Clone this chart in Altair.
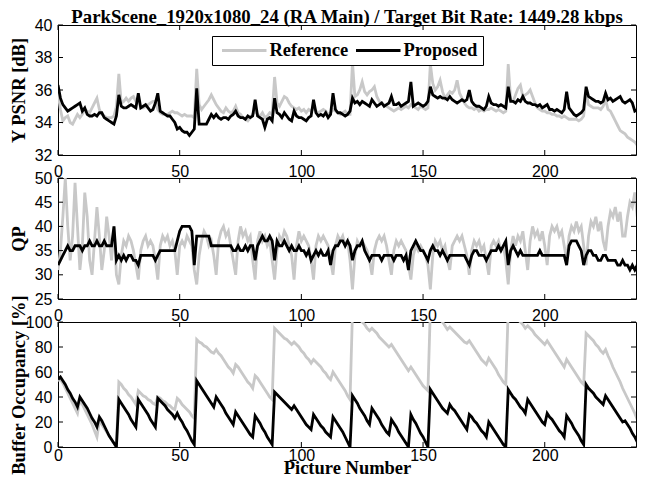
import altair as alt
import pandas as pd

frames = list(range(240))

ref_psnr = [
    35.8, 34.8, 34.1, 34.3, 34.4, 34.0, 33.9, 34.2, 34.5, 34.3, 34.5, 34.8, 34.7, 34.6, 34.9, 35.2, 35.5, 34.8, 34.5, 34.4, 34.3, 34.3, 34.3, 34.4,
    35.0, 37.0, 35.2, 35.3, 35.5, 35.3, 35.5, 35.6, 35.3, 35.5, 34.9, 34.9, 35.0, 35.1, 35.2, 35.3, 35.3, 34.8, 34.6, 34.5, 34.5, 34.5, 34.6, 34.7,
    34.6, 34.6, 34.5, 34.4, 34.5, 34.4, 34.4, 34.4, 34.3, 37.3, 35.1, 34.8, 35.0, 35.2, 35.4, 35.7, 35.4, 35.1, 34.9, 34.7, 34.6, 34.9, 34.7, 34.6,
    34.7, 35.0, 34.6, 34.5, 34.3, 34.2, 34.1, 34.3, 34.5, 34.7, 34.5, 34.4, 34.6, 34.3, 34.4, 34.6, 34.5, 36.8, 35.2, 35.0, 35.3, 35.6, 35.5, 35.2,
    35.0, 34.9, 34.8, 34.9, 34.7, 34.8, 34.6, 34.8, 34.7, 34.9, 34.7, 34.6, 34.7, 34.8, 34.7, 34.5, 34.6, 34.8, 34.7, 34.6, 34.5, 34.6, 34.7, 34.5,
    34.5, 37.7, 35.6, 35.7, 36.0, 36.5, 35.9, 35.7, 35.9, 36.0, 36.2, 35.6, 35.3, 35.2, 35.1, 35.0, 34.9, 34.8, 34.7, 34.8, 34.9, 34.8, 34.9, 35.0,
    34.9, 35.1, 35.0, 34.9, 34.8, 35.0, 34.9, 34.8, 34.9, 37.6, 36.4, 36.0, 36.2, 36.6, 35.9, 35.5, 35.7, 35.9, 35.8, 36.0, 36.6, 35.8, 35.5, 35.2,
    35.0, 34.9, 34.9, 34.8, 34.9, 34.7, 34.8, 34.7, 34.8, 34.8, 34.9, 34.8, 34.7, 34.8, 34.7, 34.6, 34.7, 37.6, 35.4, 35.3, 35.7, 36.1, 36.3, 35.6,
    35.7, 35.8, 36.0, 35.6, 35.2, 34.9, 34.8, 34.7, 34.7, 34.6, 34.6, 34.5, 34.5, 34.4, 34.4, 34.3, 34.4, 34.3, 34.2, 34.2, 34.2, 34.2, 34.1, 34.2,
    34.4, 35.9, 35.1, 35.0, 34.9, 34.9, 34.9, 34.8, 35.0, 35.4, 34.8, 34.7, 34.4, 34.1, 33.8, 33.5, 33.4, 33.3, 33.1, 33.0, 32.9, 32.8, 32.6, 32.4,
]

prop_psnr = [
    36.3, 35.5, 35.1, 34.9, 34.7, 34.8, 34.9, 35.0, 35.1, 35.2, 34.7, 34.9, 34.5, 34.4, 34.4, 34.5, 34.4, 34.6, 34.6, 34.3, 34.2, 34.1, 34.0, 33.9,
    34.4, 35.7, 35.0, 34.9, 34.9, 35.0, 35.1, 35.0, 34.9, 35.8, 34.9, 35.0, 35.1, 34.9, 34.7, 34.8, 35.2, 35.8, 34.7, 34.6, 34.5, 34.4, 34.4, 34.2,
    34.0, 33.6, 33.7, 33.5, 33.4, 33.4, 33.2, 33.4, 33.6, 36.1, 33.9, 33.9, 33.9, 33.9, 34.2, 34.5, 34.3, 34.5, 34.3, 34.2, 34.3, 34.3, 34.2, 34.4,
    34.5, 34.7, 34.4, 34.3, 34.3, 34.2, 34.4, 34.3, 34.4, 35.4, 34.4, 34.3, 34.2, 33.7, 34.2, 34.3, 34.1, 35.5, 34.6, 34.5, 34.3, 34.6, 34.4, 34.2,
    34.1, 34.7, 34.4, 34.3, 34.3, 34.2, 34.1, 34.3, 34.4, 35.4, 34.6, 34.4, 34.5, 34.4, 34.6, 34.3, 34.5, 35.8, 34.8, 34.6, 34.6, 34.5, 34.4, 34.5,
    34.7, 35.5, 35.2, 35.3, 35.1, 35.3, 35.2, 35.1, 35.0, 35.4, 35.2, 35.0, 35.1, 35.2, 35.0, 35.1, 35.2, 35.6, 35.1, 35.1, 35.2, 35.0, 35.1, 35.2,
    35.3, 36.5, 35.0, 35.1, 35.2, 35.1, 35.0, 35.1, 35.3, 36.2, 35.7, 35.6, 35.5, 35.6, 35.5, 35.5, 35.4, 35.6, 35.4, 35.3, 35.2, 35.3, 35.4, 35.3,
    35.4, 36.0, 35.3, 35.1, 35.0, 35.0, 34.9, 34.8, 35.0, 35.6, 35.2, 35.1, 35.1, 35.0, 35.1, 35.0, 34.9, 36.2, 35.3, 35.3, 35.2, 35.4, 35.3, 35.6,
    35.3, 35.2, 35.2, 35.1, 35.1, 35.0, 35.1, 34.9, 35.0, 35.1, 34.8, 34.8, 34.7, 34.8, 34.7, 34.6, 34.8, 35.9, 34.9, 34.7, 34.5, 34.4, 34.5, 34.6,
    34.8, 36.2, 35.6, 35.5, 35.4, 35.3, 35.3, 35.2, 35.3, 35.8, 35.4, 35.5, 35.3, 35.4, 35.5, 35.6, 35.3, 35.2, 35.3, 35.4, 35.2, 34.7, 34.8, 34.9,
]

ref_qp = [
    31, 35, 42, 50, 40, 33, 38, 49, 40, 31, 36, 47, 42, 33, 30, 37, 44, 38, 31, 35, 42, 38, 33, 40,
    30, 28, 34, 37, 36, 38, 37, 35, 32, 29, 35, 37, 38, 36, 37, 36, 33, 29, 36, 38, 37, 38, 36, 37,
    35, 30, 36, 37, 36, 38, 37, 36, 31, 28, 34, 37, 39, 38, 36, 37, 34, 30, 37, 39, 40, 38, 39, 36,
    33, 30, 37, 40, 38, 39, 37, 38, 33, 29, 37, 39, 37, 38, 36, 37, 33, 29, 35, 38, 37, 39, 38, 36,
    34, 29, 36, 39, 37, 38, 37, 36, 33, 29, 36, 38, 37, 38, 37, 36, 33, 30, 36, 38, 37, 38, 36, 37,
    33, 27, 34, 37, 36, 37, 36, 35, 33, 30, 35, 37, 38, 37, 38, 36, 33, 30, 35, 37, 36, 37, 36, 35,
    32, 29, 34, 36, 35, 36, 35, 34, 32, 27, 34, 37, 36, 37, 35, 36, 33, 31, 36, 37, 38, 37, 38, 36,
    34, 30, 35, 37, 36, 37, 35, 36, 33, 30, 36, 37, 36, 37, 35, 36, 33, 28, 35, 38, 36, 38, 37, 39,
    35, 31, 37, 40, 38, 39, 37, 39, 36, 32, 38, 40, 39, 40, 38, 39, 36, 33, 38, 40, 39, 41, 39, 40,
    36, 32, 38, 41, 40, 42, 39, 41, 37, 35, 40, 43, 42, 44, 41, 43, 38, 38, 42, 45, 44, 47, 42, 50,
]

prop_qp = [
    32, 33, 34, 35, 36, 35, 35, 36, 36, 36, 35, 36, 36, 37, 36, 36, 37, 36, 36, 37, 36, 36, 36, 40,
    33, 34, 33, 34, 33, 34, 34, 33, 33, 32, 34, 34, 34, 34, 34, 34, 33, 34, 35, 35, 35, 35, 35, 35,
    35, 37, 39, 40, 40, 40, 40, 39, 32, 38, 38, 38, 38, 38, 38, 36, 36, 36, 36, 36, 36, 36, 36, 36,
    35, 35, 36, 35, 35, 36, 35, 36, 36, 33, 36, 37, 38, 37, 37, 38, 37, 33, 37, 36, 36, 37, 36, 35,
    36, 35, 35, 36, 35, 35, 34, 35, 33, 34, 35, 34, 35, 34, 34, 35, 32, 35, 36, 36, 37, 37, 36, 37,
    36, 33, 35, 36, 36, 37, 35, 34, 33, 34, 34, 34, 34, 33, 34, 34, 34, 34, 33, 34, 34, 34, 33, 34,
    31, 35, 36, 37, 36, 35, 35, 34, 33, 35, 36, 35, 35, 34, 35, 34, 33, 34, 34, 34, 34, 34, 34, 34,
    33, 32, 34, 35, 35, 34, 34, 34, 33, 34, 35, 35, 35, 36, 35, 36, 37, 32, 35, 36, 35, 34, 35, 34,
    34, 34, 34, 34, 34, 34, 35, 34, 34, 34, 34, 34, 34, 34, 34, 34, 34, 32, 36, 37, 37, 37, 36, 35,
    32, 34, 35, 35, 34, 34, 33, 33, 34, 34, 33, 33, 33, 33, 32, 32, 33, 32, 32, 31, 32, 31, 32, 36,
]

ref_buf = [
    53, 54, 51, 47, 43, 39, 35, 31, 27,
    38, 34, 30, 26, 22, 18, 13, 8,
    21, 18, 15, 12, 9, 6, 3, 0,
    52, 50, 47, 45, 42, 40, 37, 34,
    45, 43, 41, 40, 38, 37, 35, 34,
    40, 39, 37, 36, 34, 33, 31, 30,
    39, 37, 34, 32, 30, 28, 25, 23,
    86, 84, 83, 81, 80, 78, 76, 75,
    78, 75, 73, 70, 67, 64, 62, 59,
    66, 64, 61, 58, 55, 52, 50, 47,
    57, 55, 52, 49, 46, 43, 40, 38,
    95, 93, 91, 89, 87, 86, 84, 82,
    84, 82, 80, 77, 75, 72, 70, 67,
    70, 68, 66, 64, 61, 59, 56, 54,
    60, 57, 54, 51, 48, 45, 41, 38,
    108, 106, 104, 102, 100, 98, 95, 93,
    95, 93, 91, 88, 86, 84, 82, 80,
    82, 79, 76, 73, 70, 67, 64, 61,
    64, 61, 58, 55, 52, 49, 47, 45,
    110, 108, 106, 104, 102, 100, 97, 94,
    96, 94, 92, 90, 88, 86, 84, 83,
    85, 82, 79, 76, 73, 70, 68, 66,
    71, 68, 65, 62, 58, 55, 52, 50,
    110, 108, 106, 104, 102, 100, 98, 95,
    97, 95, 93, 90, 88, 86, 84, 82,
    85, 82, 79, 76, 73, 70, 67, 64,
    70, 67, 64, 61, 58, 55, 52, 50,
    91, 89, 87, 85, 82, 80, 77, 75,
    78, 73, 69, 64, 60, 56, 52, 47,
    43, 39, 35, 31, 27, 22, 18,
]

prop_buf = [
    54, 56, 53, 50, 46, 43, 39, 36, 32,
    40, 37, 34, 31, 27, 23, 20, 16,
    24, 21, 17, 13, 9, 6, 3, 0,
    38, 35, 32, 29, 26, 22, 19, 16,
    38, 35, 32, 29, 26, 22, 19, 16,
    39, 37, 35, 33, 30, 28, 26, 23,
    27, 23, 20, 16, 13, 9, 5, 2,
    53, 50, 47, 44, 41, 38, 35, 32,
    40, 37, 34, 31, 27, 24, 21, 18,
    28, 25, 22, 19, 16, 13, 10, 8,
    25, 22, 19, 15, 12, 8, 5, 2,
    44, 42, 40, 38, 36, 34, 32, 30,
    33, 30, 27, 24, 21, 18, 16, 14,
    26, 23, 20, 17, 15, 12, 10, 8,
    24, 21, 18, 15, 12, 8, 4, 0,
    41, 38, 35, 31, 28, 25, 21, 18,
    31, 28, 25, 22, 18, 15, 12, 10,
    22, 19, 16, 12, 9, 6, 3, 0,
    26, 22, 19, 15, 11, 8, 4, 0,
    46, 43, 40, 37, 34, 31, 29, 27,
    34, 31, 29, 26, 23, 20, 17, 14,
    26, 24, 21, 19, 16, 13, 11, 8,
    20, 17, 14, 11, 8, 5, 2, 0,
    46, 43, 40, 38, 35, 32, 30, 27,
    38, 35, 32, 29, 26, 23, 20, 18,
    27, 24, 22, 19, 16, 13, 11, 8,
    25, 22, 19, 15, 12, 9, 5, 2,
    50, 47, 45, 43, 40, 38, 36, 34,
    41, 38, 35, 32, 29, 26, 23, 20,
    21, 18, 15, 11, 8, 4, 0,
]

x_ticks = [0, 50, 100, 150, 200]
psnr_ticks = [32, 34, 36, 38, 40]
qp_ticks = [25, 30, 35, 40, 45, 50]
buf_ticks = [0, 20, 40, 60, 80, 100]

series_names = ["Reference", "Proposed"]
series_colors = ["#c8c8c8", "#000000"]

for arr in (ref_psnr, prop_psnr, ref_qp, prop_qp, ref_buf, prop_buf):
    if len(arr) != len(frames):
        raise ValueError(f"bad length {len(arr)}")

SERIF = "Liberation Serif"
SANS = "Liberation Sans"
W = 578
XMAX = 237.5
TICK = 5


def long_df(ref, prop):
    return pd.DataFrame({
        "frame": frames + frames,
        "value": ref + prop,
        "series": ["Reference"] * len(frames) + ["Proposed"] * len(frames),
    })


def panel(ref, prop, ytitle, ydom, yvals, h, xtitle=None, legend=None):
    df = long_df(ref, prop)
    xscale = alt.Scale(domain=[0, XMAX], nice=False, zero=False)
    yscale = alt.Scale(domain=ydom, nice=False, zero=False)
    if xtitle:
        xaxis = alt.Axis(values=x_ticks, title=xtitle, labelFlush=False,
                         labelPadding=0, titlePadding=-4.5, titleFontSize=18.5)
    else:
        xaxis = alt.Axis(values=x_ticks, title=None, labelFlush=False, labelPadding=8)
    yaxis = alt.Axis(values=yvals, title=ytitle, labelFlush=False,
                     titleX=-30, titleBaseline="bottom")
    x = alt.X("frame:Q", scale=xscale, axis=xaxis)
    y = alt.Y("value:Q", scale=yscale, axis=yaxis)
    color = alt.Color("series:N",
                      scale=alt.Scale(domain=series_names, range=series_colors),
                      legend=legend)
    base = alt.Chart(df)
    gray = base.transform_filter(alt.datum.series == "Reference").mark_line(
        clip=True, strokeWidth=2.8).encode(x=x, y=y, color=color)
    black = base.transform_filter(alt.datum.series == "Proposed").mark_line(
        clip=True, strokeWidth=2.8).encode(x=x, y=y, color=color)

    xt = alt.Chart(pd.DataFrame({"frame": x_ticks}))
    yt = alt.Chart(pd.DataFrame({"value": yvals}))
    tb = xt.mark_rule(color="black", strokeWidth=1).encode(
        x=x, y=alt.value(h), y2=alt.value(h - TICK))
    tt = xt.mark_rule(color="black", strokeWidth=1).encode(
        x=x, y=alt.value(0), y2=alt.value(TICK))
    tl = yt.mark_rule(color="black", strokeWidth=1).encode(
        y=y, x=alt.value(0), x2=alt.value(TICK))
    tr = yt.mark_rule(color="black", strokeWidth=1).encode(
        y=y, x=alt.value(W), x2=alt.value(W - TICK))
    return alt.layer(gray, black, tb, tt, tl, tr).properties(width=W, height=h)


leg = alt.Legend(orient="none", legendX=154, legendY=11, direction="horizontal",
                 title=None, labelFont=SERIF, labelFontSize=18.5, labelFontWeight="bold",
                 labelColor="black", symbolType="M-3,0L3,0", symbolStrokeWidth=3,
                 symbolSize=220, symbolOffset=18, strokeColor="black", fillColor="white",
                 padding=5, columnPadding=1, labelOffset=16, labelLimit=300,
                 labelExpr="datum.label == 'Proposed' ? datum.label + '\u00a0\u00a0\u00a0\u00a0' : datum.label")

p1 = panel(ref_psnr, prop_psnr, "Y PSNR [dB]", [32, 40], psnr_ticks, 130, legend=leg).properties(
    title=alt.TitleParams(
        text="ParkScene_1920x1080_24 (RA Main) / Target Bit Rate: 1449.28 kbps",
        font=SERIF, fontSize=18.8, fontWeight="bold", color="black",
        anchor="middle", frame="group", offset=-10))
p2 = panel(ref_qp, prop_qp, "QP", [25, 50], qp_ticks, 121, legend=None)
p3 = panel(ref_buf, prop_buf, "Buffer Occupancy [%]", [0, 100], buf_ticks, 125,
           xtitle="Picture Number", legend=None)

chart = alt.vconcat(p1, p2, p3, spacing=23, bounds="flush").resolve_scale(
    color="independent").resolve_legend(color="independent").properties(
    padding={"left": 0, "top": -1, "right": 0, "bottom": -3.5}
).configure_view(stroke="black", strokeWidth=1).configure_axis(
    labelFont=SANS, labelFontSize=16, labelColor="black",
    titleFont=SERIF, titleFontSize=18.5, titleFontWeight="bold", titleColor="black",
    grid=False, ticks=False, tickSize=0, domain=False
).configure_axisY(labelPadding=6)

chart.save("out.html", embed_options={"renderer": "svg", "actions": False})
